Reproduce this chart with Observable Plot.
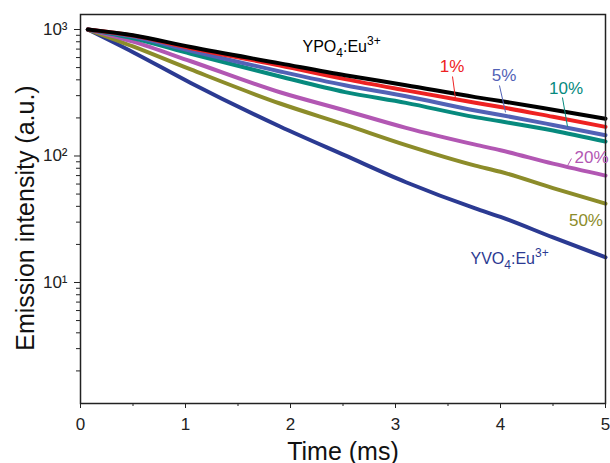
<!DOCTYPE html>
<html><head><meta charset="utf-8">
<script src="https://cdn.jsdelivr.net/npm/d3@7"></script>
<script src="https://cdn.jsdelivr.net/npm/@observablehq/plot@0.6"></script>
<style>body{margin:0;background:#fff;}</style>
</head><body><div id="chart"></div>
<script>
// Time axis (ms)
const time = [0.07, 0.5, 1.05, 1.9, 2.52, 3.1, 3.76, 4.0, 4.5, 5.0];
// Emission intensity (a.u.) per sample
const yvo4 = [1000, 662, 378, 171, 101, 62, 38.5, 33, 22.7, 15.8];
const pct50 = [1000, 735, 483, 260, 177, 122, 84, 75, 55.7, 42];
const pct20 = [1000, 802, 561, 319, 229, 167, 123, 111, 87, 70];
const pct10 = [1000, 853, 643, 425, 320, 263, 203, 188, 159, 130];
const pct5 = [1000, 878, 680, 466, 362, 297, 229, 211, 176, 146];
const pct1 = [1000, 895, 710, 520, 405, 330, 264, 244, 204, 170];
const ypo4 = [1000, 900, 727, 540, 435, 363, 292, 272, 232, 197];

const seriesNames = ["YVO4:Eu3+", "50%", "20%", "10%", "5%", "1%", "YPO4:Eu3+"];
const seriesValues = [yvo4, pct50, pct20, pct10, pct5, pct1, ypo4];
const seriesColors = ["#2b3a92", "#8c8c2a", "#b257b3", "#078a7e", "#5262b6", "#ee2222", "#000000"];

const xMajor = [0, 1, 2, 3, 4, 5];
const xMinor = [0.5, 1.5, 2.5, 3.5, 4.5];
const yMajor = [10, 100, 1000];
const yMinor = [2,3,4,5,6,7,8,9,20,30,40,50,60,70,80,90,200,300,400,500,600,700,800,900];
const sup = {1: "\u00b9", 2: "\u00b2", 3: "\u00b3"};

// annotation labels (data coordinates)
const labelText = ["YPO4:Eu3+", "1%", "5%", "10%", "20%", "50%", "YVO4:Eu3+"];
const labelT = [2.114, 3.538, 4.033, 4.624, 4.867, 4.814, 3.714];
const labelV = [734, 514, 429, 339, 98, 30.9, 15.5];
const labelColor = ["#000000", "#ee2222", "#5262b6", "#078a7e", "#b257b3", "#8c8c2a", "#2b3a92"];
const labelAnchor = ["start", "middle", "middle", "middle", "middle", "middle", "start"];

// leader lines
const leaderT1 = [3.543, 3.990, 4.590, 4.676];
const leaderV1 = [425, 361, 290, 95.5];
const leaderT2 = [3.571, 4.048, 4.638, 4.629];
const leaderV2 = [285, 221, 171, 81];
const leaderColor = ["#ee2222", "#5262b6", "#078a7e", "#b257b3"];

const lineMarks = seriesNames.map((name, i) =>
  Plot.line(time.map((t, j) => ({t, v: seriesValues[i][j]})),
    {x: "t", y: "v", stroke: seriesColors[i], strokeWidth: 4, strokeLinejoin: "round", strokeLinecap: "round", curve: "monotone-x"}));

const labels = labelText.map((text, i) => ({text, t: labelT[i], v: labelV[i], color: labelColor[i], anchor: labelAnchor[i]}));
const leaders = leaderT1.map((t1, i) => ({t1, v1: leaderV1[i], t2: leaderT2[i], v2: leaderV2[i], color: leaderColor[i]}));

const chart = Plot.plot({
  width: 610, height: 463,
  marginLeft: 80, marginRight: 5, marginTop: 14, marginBottom: 60,
  style: {fontFamily: "'Liberation Sans', Arial, sans-serif", fontSize: "17px", color: "#222", background: "#fff"},
  x: {domain: [0, 5]},
  y: {type: "log", domain: [1.105, 1314]},
  color: {type: "identity"},
  marks: [
    ...lineMarks,
    Plot.frame({stroke: "#222", strokeWidth: 1.5}),
    Plot.axisX({ticks: xMajor, tickSize: 5, tickPadding: 9, tickFormat: d => String(d), label: null, fontSize: 17}),
    Plot.axisX({ticks: xMinor, tickSize: 3, tickFormat: () => "", label: null}),
    Plot.axisY({ticks: yMajor, tickSize: 6, tickPadding: 7, tickFormat: d => "10" + sup[Math.round(Math.log10(d))], label: null, fontSize: 17}),
    Plot.axisY({ticks: yMinor, tickSize: 4, tickFormat: () => "", label: null}),
    Plot.text(["Time (ms)"], {frameAnchor: "bottom", lineAnchor: "middle", textAnchor: "middle", dy: 48, fontSize: 25, fill: "#111"}),
    Plot.text(["Emission intensity (a.u.)"], {frameAnchor: "left", textAnchor: "middle", lineAnchor: "middle", rotate: -90, dx: -55, dy: 9, fontSize: 25, fill: "#111"}),
    Plot.link(leaders, {x1: "t1", y1: "v1", x2: "t2", y2: "v2", stroke: "color", strokeWidth: 1}),
    Plot.text(labels.filter(d => d.anchor === "start"), {x: "t", y: "v", text: "text", fill: "color", textAnchor: "start", fontSize: 16}),
    Plot.text(labels.filter(d => d.anchor === "middle"), {x: "t", y: "v", text: "text", fill: "color", textAnchor: "middle", fontSize: 17})
  ]
});

const NS = "http://www.w3.org/2000/svg";
chart.querySelectorAll("text").forEach(el => {
  const m = el.textContent.match(/^(Y[PV]O)4:Eu3\+$/);
  if (!m) return;
  el.textContent = "";
  const parts = [
    {s: m[1]},
    {s: "4", dy: 5, size: 12},
    {s: ":Eu", dy: -5},
    {s: "3+", dy: -7, size: 12}
  ];
  parts.forEach(p => {
    const ts = document.createElementNS(NS, "tspan");
    ts.textContent = p.s;
    if (p.dy) ts.setAttribute("dy", p.dy);
    if (p.size) ts.setAttribute("font-size", p.size);
    el.appendChild(ts);
  });
});

document.getElementById("chart").appendChild(chart);
</script>
</body></html>
